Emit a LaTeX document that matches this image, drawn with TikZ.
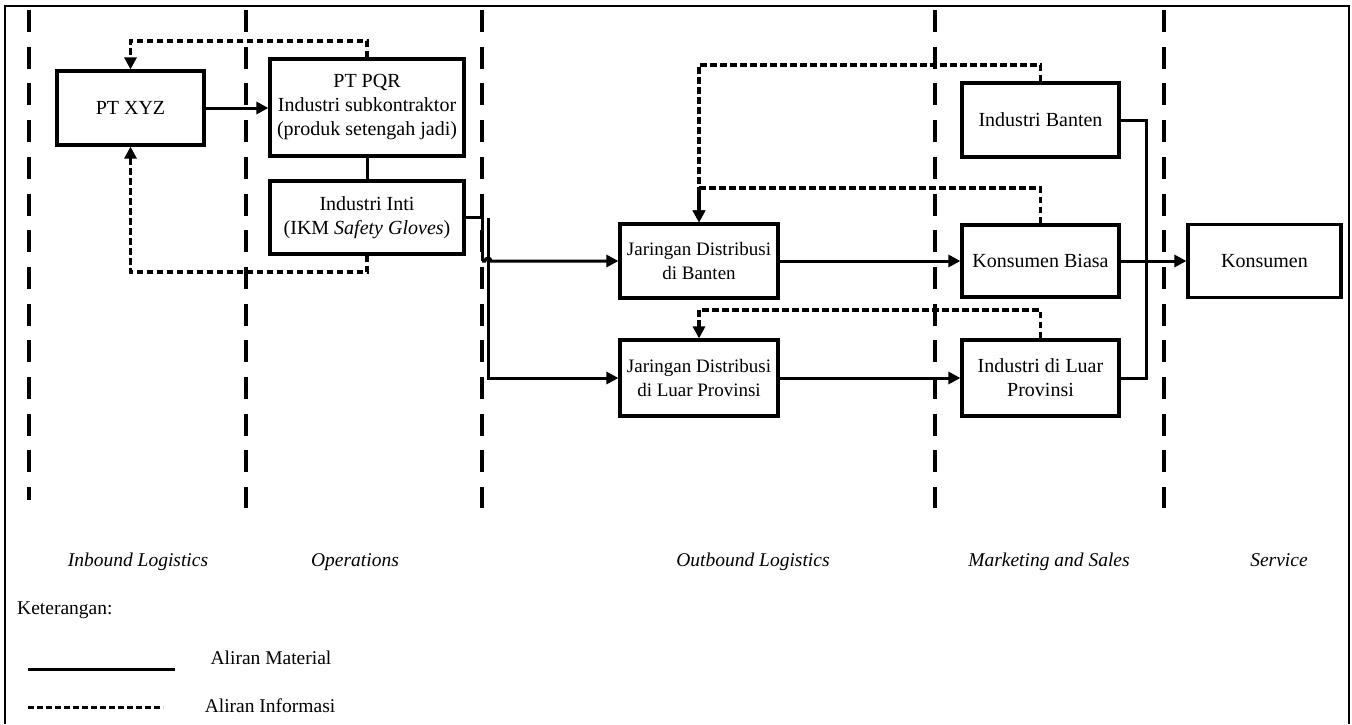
\documentclass[tikz,border=0pt]{standalone}
\usepackage{fontspec}
\setmainfont{Liberation Serif}
\usetikzlibrary{arrows.meta}
\begin{document}
\begin{tikzpicture}[x=1pt,y=-1pt,
  box/.style={draw, line width=3.2pt, align=center, inner sep=0pt,
    font=\fontsize{20}{24}\selectfont},
  narrowtext/.style={font=\fontsize{19}{24}\selectfont},
  mat/.style={line width=3pt},
  info/.style={line width=3.2pt, dash pattern=on 6.5pt off 3.5pt},
  tip/.style={-{Triangle[length=12pt,width=12pt]}},
  divider/.style={line width=3.5pt, dash pattern=on 22pt off 14.7pt},
  zone/.style={font=\fontsize{19.5}{23}\selectfont\itshape, anchor=base},
  legendtext/.style={font=\fontsize{19.5}{23}\selectfont, anchor=base}]

\useasboundingbox (0,0) rectangle (1352,724);

% outer frame
\draw[line width=2.6pt] (5,724) -- (5,6) -- (1349,6) -- (1349,724);

% value chain dividers
\draw[divider] (29,10) -- (29,500);
\draw[divider] (246,10) -- (246,508);
\draw[divider] (482,10) -- (482,508);
\draw[divider] (935,10) -- (935,508);
\draw[divider] (1164,10) -- (1164,508);

% actors
\node[box, minimum width=147, minimum height=74] (xyz) at (130.5,108) {PT XYZ};
\node[box, minimum width=194, minimum height=97] (pqr) at (367,107.5)
  {PT PQR\\Industri subkontraktor\\(produk setengah jadi)};
\node[box, minimum width=194, minimum height=73] (inti) at (367,217.5)
  {Industri Inti\\(IKM \textit{Safety Gloves})};
\node[box, narrowtext, minimum width=158, minimum height=74] (jdb) at (699,261)
  {Jaringan Distribusi\\di Banten};
\node[box, narrowtext, minimum width=158, minimum height=76] (jdl) at (699,378)
  {Jaringan Distribusi\\di Luar Provinsi};
\node[box, minimum width=157, minimum height=74] (ib) at (1040.5,120) {Industri Banten};
\node[box, minimum width=157, minimum height=72] (kb) at (1040.5,261) {Konsumen Biasa};
\node[box, minimum width=157, minimum height=76] (il) at (1040.5,378)
  {Industri di Luar\\Provinsi};
\node[box, minimum width=153, minimum height=73] (kons) at (1264.5,261) {Konsumen};

% helper coordinates for routing
\coordinate (toppqr) at (0,41);
\coordinate (botinti) at (0,272);
\coordinate (topib) at (0,65);
\coordinate (topkb) at (0,188);
\coordinate (topil) at (0,310);
\coordinate (split) at (482,261);
\coordinate (branch) at (488,217.5);
\coordinate (merge) at (1146,261);

% material flow
\draw[mat, tip] (xyz.east) -- (xyz.east -| pqr.west);
\draw[mat] (pqr.south) -- (inti.north);
\draw[mat] (inti.east) -- (inti.east -| split) -- (split);
\draw[mat, tip] (split) -- ++(3,0) arc[start angle=180, end angle=0, radius=3pt]
  -- (jdb.west);
\draw[mat, tip] (branch) |- (jdl.west);
\draw[mat, tip] (jdb.east) -- (kb.west);
\draw[mat, tip] (jdl.east) -- (il.west);
\draw[mat] (ib.east) -| (merge) |- (il.east);
\draw[mat, tip] (kb.east) -- (kons.west);

% information flow
\draw[info, tip] (pqr.north) -- (pqr.north |- toppqr) -| (xyz.north);
\draw[info, tip] (inti.south) -- (inti.south |- botinti) -| (xyz.south);
\draw[info, tip] (ib.north) -- (ib.north |- topib) -| (jdb.north);
\draw[info, tip] (kb.north) -- (kb.north |- topkb) -| (jdb.north);
\draw[info, tip] (il.north) -- (il.north |- topil) -| (jdl.north);

% activity labels
\node[zone] (l1) at (138,566) {Inbound Logistics};
\node[zone] (l2) at (355,566) {Operations};
\node[zone] (l3) at (753,566) {Outbound Logistics};
\node[zone] (l4) at (1049,566) {Marketing and Sales};
\node[zone] (l5) at (1279,566) {Service};

% legend
\node[legendtext, anchor=base west, inner sep=0pt] (ket) at (17,614) {Keterangan:};
\coordinate (ma) at (28,669);
\coordinate (mb) at (175,669);
\draw[mat] (ma) -- (mb);
\node[legendtext] (lmat) at (271,664) {Aliran Material};
\coordinate (ia) at (28,707);
\coordinate (ib2) at (163,707);
\draw[info, line width=3pt, dash pattern=on 6pt off 3pt] (ia) -- (ib2);
\node[legendtext] (linf) at (270,712) {Aliran Informasi};
\end{tikzpicture}
\end{document}
